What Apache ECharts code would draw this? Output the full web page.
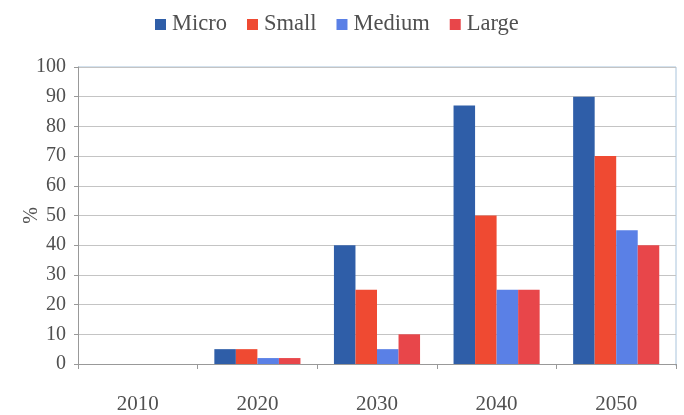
<!DOCTYPE html>
<html>
<head>
<meta charset="utf-8">
<script src="https://cdn.jsdelivr.net/npm/echarts@6/dist/echarts.min.js"></script>
<style>
  html, body, #main { margin: 0; width: 684px; height: 415px; background: #fff; }
</style>
</head>
<body>
<div id="main"></div>
<script>
var years = ['2010', '2020', '2030', '2040', '2050'];
var micro = [0, 5, 40, 87, 90];
var small = [0, 5, 25, 50, 70];
var medium = [0, 2, 5, 25, 45];
var large = [0, 2, 10, 25, 40];

var chart = echarts.init(document.getElementById('main'));
var font = 'Liberation Serif';

function bar(name, data, color) {
  return {
    name: name, type: 'bar', data: data,
    barGap: '0%', barCategoryGap: '28%',
    itemStyle: { color: color }
  };
}

chart.setOption({
  animation: false,
  textStyle: { fontFamily: font },
  legend: {
    top: 8, left: 150,
    itemWidth: 11, itemHeight: 11, itemGap: 20,
    icon: 'rect',
    textStyle: { fontFamily: font, fontSize: 22.5, color: '#505050', padding: [0, 0, 0, 1] }
  },
  grid: { left: 78, right: 8, top: 67, bottom: 49 },
  xAxis: {
    type: 'category', data: years,
    axisLine: { lineStyle: { color: '#999' } },
    axisTick: { show: true, alignWithLabel: false, length: 5, lineStyle: { color: '#999' } },
    axisLabel: { fontFamily: font, fontSize: 21, color: '#505050', margin: 30 }
  },
  yAxis: {
    type: 'value', min: 0, max: 100, interval: 10,
    name: '%', nameLocation: 'middle', nameGap: 36, nameRotate: 90,
    nameMoveOverlap: false,
    nameTextStyle: { fontFamily: font, fontSize: 20, color: '#505050' },
    axisLine: { show: true, lineStyle: { color: '#999' } },
    axisTick: { show: true, length: 4, lineStyle: { color: '#999' } },
    axisLabel: { fontFamily: font, fontSize: 20, color: '#505050', margin: 12 },
    splitLine: { lineStyle: { color: '#c4c4c4' } }
  },
  series: [
    bar('Micro', micro, '#2f5ea8'),
    bar('Small', small, '#ef4a32'),
    bar('Medium', medium, '#5a80e6'),
    bar('Large', large, '#e8464a')
  ],
  graphic: [{
    type: 'line', shape: { x1: 676, y1: 67, x2: 676, y2: 366 },
    style: { stroke: '#a9c4dc', lineWidth: 1 }
  }, {
    type: 'line', shape: { x1: 78, y1: 67, x2: 676, y2: 67 },
    style: { stroke: '#a9c4dc', lineWidth: 1 }
  }]
});
</script>
</body>
</html>
